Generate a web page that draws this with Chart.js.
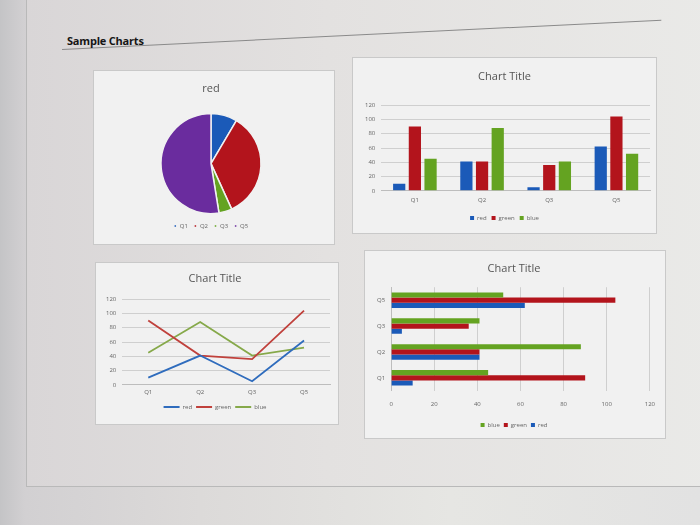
<!DOCTYPE html>
<html>
<head>
<meta charset="utf-8">
<script src="https://cdn.jsdelivr.net/npm/chart.js@4"></script>
<style>
    body { margin: 0; width: 700px; height: 525px; overflow: hidden; position: relative;
           background: linear-gradient(90deg, #c4c4c6 0px, #d2d0d2 25px, #dcdad9 200px, #e6e6e3 450px, #e2e2e2 700px);
           font-family: "Open Sans", "Liberation Sans", sans-serif; }
    #page { position: absolute; left: 26px; top: -2px; width: 690px; height: 487px;
            border: 1px solid #b9b9b9; background: linear-gradient(90deg, #d9d6d7 0px, #e3e1e0 300px, #eaeae8 700px); }
    #heading { position: absolute; left: 67px; top: 33px; font-size: 11px; font-weight: bold;
               color: #151515; letter-spacing: -0.2px; }
    #rule { position: absolute; left: 62px; top: 49px; width: 600px; height: 1px; background: #8a8a8a;
            transform: rotate(-2.8deg); transform-origin: 0 0; }
    .box { position: absolute; background: #f1f1f1; border: 1px solid #c9c9c9; }
    .box canvas { display: block; }
</style>
</head>
<body>
<div id="page"></div>
<div id="rule"></div>
<div id="heading">Sample Charts</div>

<div class="box" style="left:93px; top:70px; width:240px; height:173px;"><canvas id="pie-chart" width="240" height="173"></canvas></div>
<div class="box" style="left:352px; top:57px; width:303px; height:175px;"><canvas id="column-chart" width="303" height="175"></canvas></div>
<div class="box" style="left:95px; top:262px; width:242px; height:161px;"><canvas id="line-chart" width="242" height="161"></canvas></div>
<div class="box" style="left:364px; top:250px; width:300px; height:187px;"><canvas id="bar-chart" width="300" height="187"></canvas></div>

<script>
// Data
const quarters = ['Q1', 'Q2', 'Q3', 'Q5'];
const redSeries = [10, 41, 5, 62];
const greenSeries = [90, 41, 36, 104];
const blueSeries = [45, 88, 41, 52];
const valueTicks = [0, 20, 40, 60, 80, 100, 120];

// Excel-ish colours (the series names do not match their colours in the original)
const BLUE = '#1b5ab8';
const RED = '#b3141c';
const GREEN = '#64a321';
const PURPLE = '#6a2c9e';
const FONT = '"Open Sans", "Liberation Sans", sans-serif';

Chart.defaults.font.family = FONT;
Chart.defaults.color = '#666';
Chart.defaults.animation = false;

const titleOpts = (text, top, bottom) => ({
    display: true, text, color: '#555',
    font: { size: 11, weight: 'normal' },
    padding: { top, bottom }
});
const tickFont = { size: 6 };

function valueAxis(extra) {
    return Object.assign({
        min: 0, max: 120,
        afterBuildTicks: axis => { axis.ticks = valueTicks.map(v => ({ value: v })); },
        ticks: { font: tickFont, color: '#666', padding: 6 },
        grid: { color: '#cfcfcf', drawTicks: false },
        border: { display: false }
    }, extra || {});
}

function categoryAxis(extra) {
    return Object.assign({
        ticks: { font: tickFont, color: '#666', padding: 4 },
        grid: { display: false, drawTicks: false },
        border: { display: true, color: '#bdbdbd' }
    }, extra || {});
}

// Pie of the "red" series
new Chart(document.getElementById('pie-chart'), {
    type: 'pie',
    data: {
        labels: quarters,
        datasets: [{ data: redSeries, backgroundColor: [BLUE, RED, GREEN, PURPLE], borderColor: '#f1f1f1', borderWidth: 1.5, radius: 50 }]
    },
    options: {
        responsive: false,
        layout: { padding: { top: 1, bottom: 5, right: 6 } },
        plugins: {
            title: titleOpts('red', 10, 15),
            legend: { position: 'bottom', labels: { font: tickFont, boxWidth: 3, boxHeight: 3, usePointStyle: true, pointStyle: 'rect', padding: 6 } },
            tooltip: { enabled: false }
        }
    }
});

// Clustered column chart
new Chart(document.getElementById('column-chart'), {
    type: 'bar',
    data: {
        labels: quarters,
        datasets: [
            { label: 'red', data: redSeries, backgroundColor: BLUE },
            { label: 'green', data: greenSeries, backgroundColor: RED },
            { label: 'blue', data: blueSeries, backgroundColor: GREEN }
        ]
    },
    options: {
        responsive: false,
        categoryPercentage: 0.7,
        barPercentage: 0.78,
        layout: { padding: { left: 6, right: 6, bottom: 2 } },
        scales: { x: categoryAxis({ ticks: { font: tickFont, color: '#666', padding: 6 } }), y: valueAxis() },
        plugins: {
            title: titleOpts('Chart Title', 12, 22),
            legend: { position: 'bottom', labels: { font: tickFont, boxWidth: 4, boxHeight: 4, padding: 5 } },
            tooltip: { enabled: false }
        }
    }
});

// Line chart
new Chart(document.getElementById('line-chart'), {
    type: 'line',
    data: {
        labels: quarters,
        datasets: [
            { label: 'red', data: redSeries, borderColor: '#2f6cbd', backgroundColor: '#2f6cbd' },
            { label: 'green', data: greenSeries, borderColor: '#c0413c', backgroundColor: '#c0413c' },
            { label: 'blue', data: blueSeries, borderColor: '#86a94a', backgroundColor: '#86a94a' }
        ]
    },
    options: {
        responsive: false,
        elements: { line: { borderWidth: 1.8, tension: 0 }, point: { radius: 0 } },
        layout: { padding: { left: 4, right: 8, bottom: 4 } },
        scales: { x: categoryAxis({ offset: true }), y: valueAxis() },
        plugins: {
            title: titleOpts('Chart Title', 9, 14),
            legend: { position: 'bottom', labels: { font: tickFont, boxWidth: 16, boxHeight: 0, padding: 4 } },
            tooltip: { enabled: false }
        }
    }
});

// Clustered horizontal bar chart, Q1 at the bottom like Excel
const barLabels = quarters.slice().reverse();
new Chart(document.getElementById('bar-chart'), {
    type: 'bar',
    data: {
        labels: barLabels,
        datasets: [
            { label: 'blue', data: blueSeries.slice().reverse(), backgroundColor: GREEN },
            { label: 'green', data: greenSeries.slice().reverse(), backgroundColor: RED },
            { label: 'red', data: redSeries.slice().reverse(), backgroundColor: BLUE }
        ]
    },
    options: {
        responsive: false,
        indexAxis: 'y',
        categoryPercentage: 0.6,
        barPercentage: 1.0,
        layout: { padding: { left: 6, right: 8, bottom: 0 } },
        scales: {
            x: valueAxis({ ticks: { font: tickFont, color: '#666', padding: 10 } }),
            y: categoryAxis({ ticks: { font: tickFont, color: '#666', padding: 6 } })
        },
        plugins: {
            title: titleOpts('Chart Title', 11, 12),
            legend: { position: 'bottom', labels: { font: tickFont, boxWidth: 4, boxHeight: 4, padding: 4 } },
            tooltip: { enabled: false }
        }
    }
});
</script>
</body>
</html>
